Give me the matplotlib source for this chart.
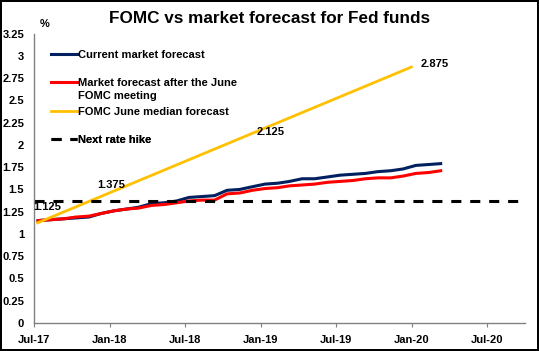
import matplotlib
matplotlib.use("Agg")
import matplotlib.pyplot as plt
from matplotlib.lines import Line2D
import numpy as np
import pandas as pd

plt.rcParams['font.family'] = ['Liberation Sans', 'DejaVu Sans']

# ---- data ----
market_dates = pd.date_range("2017-07-01", periods=33, freq="MS") + pd.Timedelta(days=10)
current_market = [1.15, 1.16, 1.17, 1.18, 1.19, 1.23, 1.26, 1.28, 1.30, 1.34, 1.35,
                  1.37, 1.41, 1.42, 1.43, 1.49, 1.50, 1.53, 1.56, 1.57, 1.59, 1.62,
                  1.62, 1.64, 1.66, 1.67, 1.68, 1.70, 1.71, 1.73, 1.77, 1.78, 1.79]
after_june = [1.15, 1.16, 1.17, 1.19, 1.20, 1.23, 1.26, 1.28, 1.29, 1.32, 1.33,
              1.35, 1.37, 1.38, 1.38, 1.45, 1.46, 1.49, 1.51, 1.52, 1.54, 1.55,
              1.56, 1.58, 1.59, 1.60, 1.62, 1.63, 1.63, 1.65, 1.68, 1.69, 1.71]
fomc_dates = pd.to_datetime(["2017-07-10", "2019-12-31"])
fomc_values = [1.125, 2.875]
fomc_label_dates = pd.to_datetime(["2017-08-01", "2018-01-05", "2019-01-25", "2020-02-25"])
fomc_label_values = [1.125, 1.375, 2.125, 2.875]
fomc_label_y = [1.30, 1.55, 2.15, 2.91]
hike_dates = pd.to_datetime(["2017-07-01", "2020-09-15"])
hike_values = [1.375, 1.375]

x_ticks = pd.to_datetime(["2017-07-01", "2018-01-01", "2018-07-01", "2019-01-01",
                          "2019-07-01", "2020-01-01", "2020-07-01"])
x_tick_labels = ["Jul-17", "Jan-18", "Jul-18", "Jan-19", "Jul-19", "Jan-20", "Jul-20"]
y_ticks = [0, 0.25, 0.5, 0.75, 1, 1.25, 1.5, 1.75, 2, 2.25, 2.5, 2.75, 3, 3.25]
y_tick_labels = ["0", "0.25", "0.5", "0.75", "1", "1.25", "1.5", "1.75", "2",
                 "2.25", "2.5", "2.75", "3", "3.25"]

# ---- figure ----
fig = plt.figure(figsize=(5.39, 3.51), dpi=100)
fig.patch.set_facecolor("white")
fig.patch.set_edgecolor("black")
fig.patch.set_linewidth(1.5)
ax = fig.add_axes([0.063, 0.080, 0.911, 0.824])

l_cur, = ax.plot(market_dates, current_market, color="#002060", lw=2.2,
                 solid_joinstyle="round")
l_aft, = ax.plot(market_dates, after_june, color="#FF0000", lw=2.2,
                 solid_joinstyle="round")
l_fomc, = ax.plot(fomc_dates, fomc_values, color="#FFC000", lw=2.0)
l_hike, = ax.plot(hike_dates, hike_values, color="black", lw=2.2, dashes=(3.3, 2.9))

for d, v, yy in zip(fomc_label_dates, fomc_label_values, fomc_label_y):
    ax.text(d, yy, f"{v:.3f}", fontsize=8, fontweight="bold", ha="center",
            va="center", color="black")

ax.set_xlim(pd.Timestamp("2017-07-01"), pd.Timestamp("2020-10-01"))
ax.set_ylim(0, 3.25)
ax.set_xticks(x_ticks)
ax.set_xticklabels(x_tick_labels, fontsize=8, fontweight="bold")
ax.set_yticks(y_ticks)
ax.set_yticklabels(y_tick_labels, fontsize=8, fontweight="bold")
ax.tick_params(axis="x", length=3, width=0.8, color="#808080", pad=6, direction="out")
ax.tick_params(axis="y", length=0, pad=7)

for s in ["top", "right"]:
    ax.spines[s].set_visible(False)
for s in ["left", "bottom"]:
    ax.spines[s].set_color("#808080")
    ax.spines[s].set_linewidth(1.0)

ax.text(0.012, 1.035, "%", transform=ax.transAxes, fontsize=8, fontweight="bold",
        ha="left", va="center")

# legend built as separate blocks to match the original spacing
blank = Line2D([], [], color="none")
legend_blocks = [
    ([l_cur], ["Current market forecast"], 0.926),
    ([l_aft, blank], ["Market forecast after the June", "FOMC meeting"], 0.807),
    ([l_fomc], ["FOMC June median forecast"], 0.729),
    ([l_hike], ["Next rate hike"], 0.632),
]
for handles, labels, ypos in legend_blocks:
    lg = ax.legend(handles, labels, loc="center left", bbox_to_anchor=(0.034, ypos),
                   frameon=False, prop={"size": 8, "weight": "bold"},
                   handlelength=2.35, handletextpad=0.15, labelspacing=0.25,
                   borderaxespad=0, borderpad=0)
    ax.add_artist(lg)

fig.text(0.5, 0.948, "FOMC vs market forecast for Fed funds", fontsize=12.3,
         fontweight="bold", ha="center", va="center")

fig.savefig("out.png", dpi=100, facecolor=fig.get_facecolor(),
            edgecolor=fig.get_edgecolor())
